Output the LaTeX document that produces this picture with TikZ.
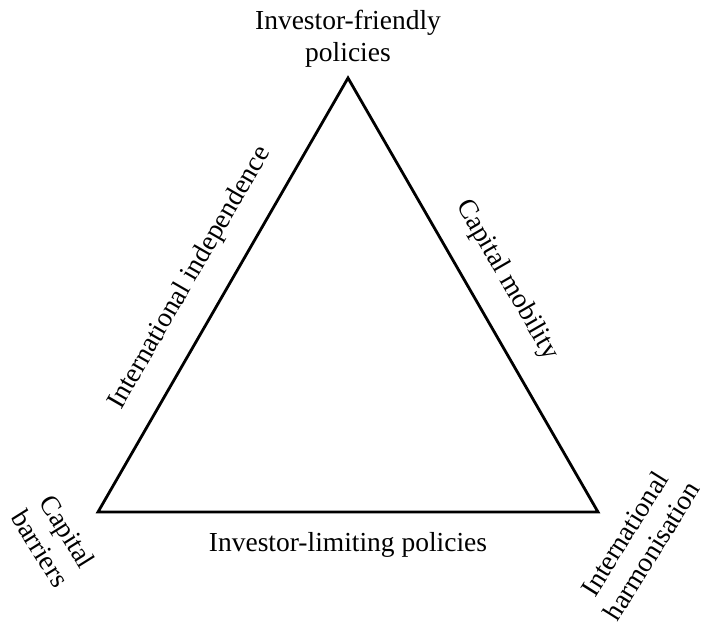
\documentclass[tikz,border=0pt]{standalone}
\usepackage{fontspec}
\setmainfont{Liberation Serif}
\begin{document}
\begin{tikzpicture}[x=1pt,y=-1pt,
  lbl/.style={font=\fontsize{27.5}{32}\selectfont, inner sep=0pt, align=center},
  edge/.style={line width=2.8pt, line join=miter}]
\useasboundingbox (0,0) rectangle (706,624);
% triangle corners
\coordinate (top) at (348,78);
\coordinate (bl) at (98,512);
\coordinate (br) at (598,512);
\draw[edge] (top) -- (br) -- (bl) -- cycle;
% corner labels
\node[lbl] (tl) at (348,39) {Investor-friendly\\policies};
\node[lbl, rotate=-58] (bll) at (54,540) {Capital\\barriers};
\node[lbl, rotate=58] (brl) at (638,542) {International\\harmonisation};
% side labels
\node[lbl] (bot) at (348,545) {Investor-limiting policies};
\node[lbl, rotate=60] (left) at (190,278) {International independence};
\node[lbl, rotate=-60] (right) at (507,280) {Capital mobility};
\end{tikzpicture}
\end{document}
